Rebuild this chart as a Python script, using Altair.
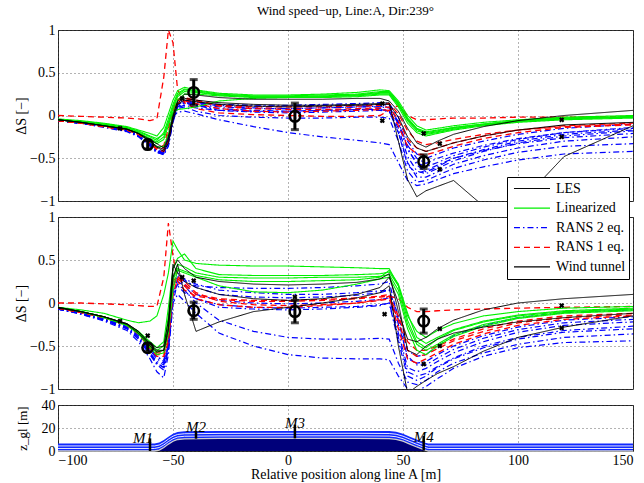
import altair as alt
import pandas as pd

FONT = "Liberation Serif, Times New Roman, serif"

# ---------------- data ----------------
X = [-100, -90, -80, -70, -65, -60, -57, -54, -52, -50, -48, -45, -40, -30, -15,
     0, 15, 30, 40, 44, 48, 52, 56, 60, 65, 72, 85, 100, 120, 150]

MODELS = ["LES", "Linearized", "RANS 2 eq.", "RANS 1 eq.", "Wind tunnel"]
COLORS = ["#000000", "#00f000", "#0000ff", "#ff0000", "#000000"]
DASHES = [[1, 0], [1, 0], [6, 3, 1.5, 3], [6, 4], [1, 0]]
WIDTHS = [1, 1.4, 1, 1, 3]

# ---- top panel ----
TOP_LES = [
    [-0.05,-0.08,-0.12,-0.16,-0.21,-0.28,-0.33,-0.38,-0.25,0.0,0.17,0.25,0.24,0.21,0.19,0.19,0.19,0.2,0.2,0.17,0.05,-0.15,-0.32,-0.37,-0.3,-0.22,-0.13,-0.06,0.0,0.06],
    [-0.05,-0.08,-0.12,-0.16,-0.21,-0.3,-0.36,-0.4,-0.28,-0.02,0.15,0.2,0.18,0.15,0.13,0.12,0.12,0.13,0.14,0.15,-0.3,-0.75,-0.95,-0.88,-0.83,-0.76,-1.06,-1.05,-0.48,-0.12],
    [-0.05,-0.08,-0.12,-0.16,-0.21,-0.31,-0.37,-0.42,-0.32,-0.06,0.13,0.18,0.16,0.13,0.11,0.1,0.11,0.12,0.13,0.13,-0.02,-0.25,-0.38,-0.42,-0.38,-0.32,-0.24,-0.17,-0.11,-0.08],
]
TOP_LIN = [
    [-0.04,-0.06,-0.09,-0.13,-0.17,-0.21,-0.24,-0.14,0.02,0.18,0.29,0.33,0.3,0.26,0.24,0.24,0.25,0.27,0.3,0.29,0.17,0.0,-0.12,-0.17,-0.15,-0.12,-0.08,-0.05,-0.02,0.0],
    [-0.05,-0.07,-0.1,-0.14,-0.19,-0.25,-0.29,-0.2,-0.04,0.13,0.26,0.31,0.29,0.25,0.23,0.23,0.24,0.25,0.28,0.28,0.15,-0.03,-0.15,-0.19,-0.17,-0.14,-0.1,-0.06,-0.03,-0.01],
    [-0.05,-0.08,-0.11,-0.15,-0.2,-0.28,-0.33,-0.28,-0.12,0.08,0.22,0.28,0.27,0.24,0.22,0.22,0.22,0.24,0.26,0.26,0.13,-0.06,-0.18,-0.21,-0.19,-0.15,-0.11,-0.07,-0.04,-0.02],
    [-0.05,-0.08,-0.12,-0.16,-0.21,-0.3,-0.37,-0.36,-0.22,0.02,0.18,0.25,0.25,0.23,0.21,0.21,0.21,0.22,0.24,0.24,0.1,-0.09,-0.2,-0.24,-0.21,-0.17,-0.12,-0.08,-0.05,-0.03],
    [-0.05,-0.07,-0.1,-0.14,-0.18,-0.24,-0.27,-0.22,-0.08,0.04,0.07,0.08,0.1,0.17,0.2,0.21,0.22,0.23,0.25,0.25,0.12,-0.05,-0.16,-0.2,-0.18,-0.14,-0.1,-0.06,-0.03,-0.02],
    [-0.05,-0.07,-0.11,-0.15,-0.2,-0.27,-0.31,-0.25,-0.08,0.1,0.24,0.3,0.28,0.24,0.22,0.22,0.23,0.24,0.27,0.27,0.14,-0.04,-0.16,-0.22,-0.2,-0.16,-0.11,-0.07,-0.04,-0.02],
]
TOP_R2 = [
    [-0.05,-0.08,-0.12,-0.17,-0.23,-0.33,-0.41,-0.44,-0.3,-0.02,0.12,0.17,0.15,0.13,0.12,0.12,0.13,0.14,0.15,0.14,-0.02,-0.3,-0.45,-0.5,-0.45,-0.38,-0.3,-0.22,-0.15,-0.1],
    [-0.06,-0.09,-0.13,-0.18,-0.24,-0.35,-0.43,-0.45,-0.28,0.02,0.15,0.18,0.16,0.11,0.09,0.08,0.09,0.1,0.1,0.09,-0.1,-0.4,-0.55,-0.6,-0.55,-0.47,-0.37,-0.28,-0.2,-0.15],
    [-0.06,-0.09,-0.13,-0.18,-0.24,-0.34,-0.43,-0.46,-0.36,-0.08,0.1,0.14,0.12,0.06,0.04,0.03,0.04,0.05,0.06,0.05,-0.15,-0.48,-0.65,-0.68,-0.62,-0.53,-0.42,-0.32,-0.24,-0.18],
    [-0.05,-0.08,-0.12,-0.17,-0.23,-0.33,-0.42,-0.46,-0.35,-0.06,0.1,0.15,0.12,0.08,0.06,0.05,0.06,0.07,0.08,0.06,-0.2,-0.55,-0.72,-0.72,-0.66,-0.57,-0.47,-0.38,-0.3,-0.25],
    [-0.06,-0.09,-0.14,-0.19,-0.25,-0.36,-0.44,-0.43,-0.25,0.04,0.14,0.16,0.13,0.1,0.08,0.08,0.09,0.1,0.11,0.1,-0.08,-0.35,-0.5,-0.56,-0.5,-0.44,-0.35,-0.27,-0.2,-0.14],
    [-0.06,-0.09,-0.13,-0.18,-0.24,-0.34,-0.41,-0.42,-0.28,-0.02,0.04,0.05,0.02,-0.05,-0.13,-0.2,-0.25,-0.29,-0.32,-0.34,-0.55,-0.76,-0.82,-0.8,-0.75,-0.68,-0.6,-0.52,-0.45,-0.42],
    [-0.06,-0.09,-0.13,-0.18,-0.24,-0.34,-0.42,-0.44,-0.32,-0.04,0.08,0.1,0.05,0.0,-0.02,-0.03,-0.03,-0.02,-0.02,-0.03,-0.3,-0.65,-0.78,-0.76,-0.7,-0.62,-0.52,-0.43,-0.36,-0.33],
    [-0.05,-0.08,-0.12,-0.17,-0.23,-0.33,-0.41,-0.45,-0.3,0.0,0.13,0.16,0.14,0.12,0.11,0.11,0.12,0.12,0.13,0.12,-0.08,-0.38,-0.58,-0.66,-0.6,-0.5,-0.4,-0.3,-0.22,-0.17],
    [-0.06,-0.09,-0.13,-0.18,-0.23,-0.33,-0.41,-0.43,-0.33,-0.05,0.09,0.12,0.09,0.06,0.05,0.05,0.06,0.07,0.07,0.05,-0.2,-0.58,-0.68,-0.64,-0.58,-0.5,-0.41,-0.33,-0.26,-0.21],
]
TOP_R1 = [
    [0.0,-0.01,-0.02,-0.03,-0.04,-0.06,-0.04,0.45,1.0,0.85,0.3,0.15,0.08,0.03,0.01,0.0,-0.01,-0.01,0.0,0.06,0.12,0.0,-0.05,-0.05,-0.04,-0.03,-0.03,-0.02,-0.02,-0.01],
    [-0.06,-0.09,-0.13,-0.17,-0.22,-0.32,-0.38,-0.38,-0.2,0.05,0.17,0.2,0.17,0.11,0.08,0.07,0.07,0.08,0.09,0.1,-0.05,-0.28,-0.38,-0.42,-0.38,-0.32,-0.24,-0.17,-0.12,-0.09],
    [-0.06,-0.09,-0.13,-0.17,-0.22,-0.33,-0.4,-0.42,-0.3,0.0,0.14,0.17,0.14,0.08,0.05,0.04,0.05,0.06,0.07,0.06,-0.12,-0.36,-0.45,-0.46,-0.42,-0.36,-0.27,-0.2,-0.14,-0.11],
    [-0.06,-0.09,-0.13,-0.17,-0.22,-0.32,-0.38,-0.35,-0.15,0.08,0.19,0.21,0.18,0.12,0.1,0.1,0.1,0.11,0.12,0.14,0.02,-0.18,-0.3,-0.34,-0.32,-0.28,-0.22,-0.17,-0.13,-0.1],
]
TOP_XM_X = [-73, -46, 41, 41, 59, 66, 66, 119, 119]
TOP_XM_Y = [-0.15, 0.2, 0.14, -0.06, -0.21, -0.33, -0.63, -0.05, -0.25]

WT_X = [-61, -41, 3, 59]
TOP_WT_Y = [-0.34, 0.27, -0.01, -0.54]
TOP_WT_E = [0.05, 0.15, 0.155, 0.08]

# ---- middle panel ----
MID_LES = [
    [-0.05,-0.1,-0.16,-0.24,-0.33,-0.47,-0.52,-0.5,-0.2,0.4,0.5,0.4,0.3,0.25,0.22,0.21,0.22,0.24,0.28,0.34,-0.1,-0.42,-0.45,-0.4,-0.3,-0.2,-0.08,0.0,0.05,0.1],
    [-0.06,-0.1,-0.16,-0.24,-0.33,-0.48,-0.55,-0.55,-0.3,0.3,0.45,0.1,-0.33,-0.22,-0.1,-0.05,0.0,0.06,0.12,0.2,-0.5,-1.05,-0.97,-0.9,-0.82,-0.74,-0.56,-0.4,-0.28,-0.15],
    [-0.05,-0.1,-0.16,-0.25,-0.35,-0.5,-0.57,-0.55,-0.3,0.45,0.35,0.25,0.18,0.1,0.05,0.03,0.05,0.1,0.18,0.3,0.0,-0.55,-0.6,-0.5,-0.42,-0.35,-0.28,-0.22,-0.17,-0.12],
]
MID_LIN = [
    [-0.05,-0.08,-0.12,-0.2,-0.23,-0.21,-0.15,0.1,0.35,0.72,0.62,0.5,0.46,0.44,0.43,0.43,0.42,0.41,0.4,0.4,0.2,-0.15,-0.33,-0.4,-0.32,-0.24,-0.15,-0.1,-0.06,-0.04],
    [-0.05,-0.1,-0.16,-0.25,-0.33,-0.45,-0.52,-0.45,-0.05,0.4,0.52,0.57,0.4,0.33,0.32,0.32,0.32,0.33,0.34,0.36,0.2,-0.2,-0.45,-0.52,-0.42,-0.32,-0.22,-0.15,-0.1,-0.07],
    [-0.05,-0.1,-0.17,-0.26,-0.35,-0.5,-0.57,-0.55,-0.25,0.25,0.45,0.42,0.35,0.3,0.29,0.29,0.3,0.3,0.31,0.33,0.15,-0.25,-0.48,-0.55,-0.48,-0.37,-0.25,-0.17,-0.11,-0.08],
    [-0.05,-0.1,-0.17,-0.26,-0.36,-0.52,-0.6,-0.58,-0.35,0.15,0.38,0.35,0.3,0.2,0.13,0.12,0.15,0.22,0.28,0.3,0.1,-0.3,-0.55,-0.6,-0.5,-0.39,-0.27,-0.18,-0.12,-0.09],
    [-0.05,-0.1,-0.16,-0.25,-0.34,-0.48,-0.55,-0.5,-0.15,0.3,0.4,0.37,0.32,0.27,0.25,0.25,0.26,0.27,0.3,0.38,0.22,-0.12,-0.4,-0.47,-0.4,-0.31,-0.21,-0.14,-0.09,-0.06],
]
MID_R2 = [
    [-0.06,-0.11,-0.18,-0.28,-0.38,-0.55,-0.65,-0.7,-0.5,0.2,0.3,0.25,0.2,0.18,0.17,0.17,0.18,0.2,0.22,0.25,-0.2,-0.65,-0.7,-0.68,-0.6,-0.5,-0.38,-0.28,-0.2,-0.16],
    [-0.07,-0.12,-0.2,-0.3,-0.42,-0.6,-0.72,-0.78,-0.55,0.1,0.28,0.22,0.1,0.03,0.0,-0.01,0.0,0.02,0.04,0.06,-0.35,-0.75,-0.8,-0.76,-0.68,-0.58,-0.45,-0.34,-0.26,-0.22],
    [-0.07,-0.13,-0.21,-0.32,-0.45,-0.65,-0.8,-0.87,-0.6,0.0,0.25,0.2,0.05,-0.05,-0.07,-0.08,-0.07,-0.05,-0.03,0.0,-0.45,-0.85,-0.9,-0.85,-0.75,-0.65,-0.52,-0.42,-0.34,-0.3],
    [-0.07,-0.12,-0.19,-0.29,-0.4,-0.58,-0.68,-0.72,-0.5,0.1,0.22,0.15,0.0,-0.2,-0.33,-0.4,-0.42,-0.42,-0.41,-0.42,-0.7,-0.92,-0.95,-0.9,-0.8,-0.7,-0.58,-0.48,-0.4,-0.36],
    [-0.07,-0.13,-0.2,-0.3,-0.42,-0.6,-0.7,-0.75,-0.55,0.0,0.1,0.02,-0.12,-0.35,-0.5,-0.6,-0.64,-0.65,-0.65,-0.66,-0.85,-1.0,-1.02,-0.97,-0.88,-0.76,-0.62,-0.52,-0.46,-0.44],
    [-0.06,-0.11,-0.18,-0.27,-0.37,-0.53,-0.63,-0.66,-0.45,0.3,0.35,0.28,0.22,0.15,0.12,0.1,0.1,0.12,0.14,0.15,-0.15,-0.55,-0.62,-0.6,-0.5,-0.38,-0.26,-0.17,-0.11,-0.08],
    [-0.07,-0.12,-0.19,-0.29,-0.4,-0.58,-0.7,-0.75,-0.5,0.15,0.2,0.12,0.05,-0.02,-0.05,-0.06,-0.05,-0.04,-0.02,0.0,-0.4,-0.8,-0.85,-0.82,-0.74,-0.64,-0.5,-0.4,-0.32,-0.27],
    [-0.06,-0.1,-0.17,-0.26,-0.36,-0.52,-0.62,-0.68,-0.48,0.2,0.32,0.27,0.18,0.1,0.07,0.06,0.07,0.09,0.12,0.15,-0.25,-0.62,-0.72,-0.72,-0.64,-0.54,-0.41,-0.31,-0.23,-0.19],
]
MID_R1 = [
    [0.0,0.0,-0.01,-0.02,-0.03,-0.04,-0.04,0.3,0.93,0.55,0.25,0.15,0.08,0.04,0.02,0.02,0.03,0.05,0.07,0.08,0.05,-0.05,-0.1,-0.1,-0.09,-0.08,-0.07,-0.06,-0.05,-0.04],
    [-0.06,-0.11,-0.17,-0.26,-0.36,-0.52,-0.6,-0.6,-0.4,0.2,0.3,0.25,0.12,0.02,-0.02,-0.03,-0.02,0.0,0.03,0.05,-0.2,-0.55,-0.62,-0.6,-0.53,-0.44,-0.33,-0.23,-0.17,-0.14],
    [-0.06,-0.11,-0.17,-0.26,-0.36,-0.53,-0.62,-0.62,-0.45,0.1,0.28,0.22,0.1,0.05,0.03,0.03,0.04,0.06,0.08,0.1,-0.3,-0.65,-0.7,-0.65,-0.58,-0.48,-0.36,-0.26,-0.19,-0.15],
    [-0.06,-0.11,-0.17,-0.26,-0.35,-0.5,-0.58,-0.58,-0.35,0.25,0.32,0.2,0.05,-0.02,-0.05,-0.05,-0.03,0.0,0.04,0.08,-0.15,-0.45,-0.55,-0.55,-0.5,-0.42,-0.3,-0.21,-0.15,-0.12],
]
MID_XM_X = [-73, -61, -46, -41, 3, 42, 59, 66, 66, 119, 119]
MID_XM_Y = [-0.21, -0.38, 0.3, 0.26, 0.07, -0.13, -0.71, -0.3, -0.5, -0.03, -0.29]
MID_WT_Y = [-0.52, -0.09, -0.1, -0.21]
MID_WT_E = [0.045, 0.1, 0.13, 0.14]

# ---- terrain panel ----
TX = [-100, -58, -56, -54, -52, -50, -48, -45, -30, 0, 30, 44, 47, 50, 53, 56, 59, 61, 150]
TZ = [0, 0, 0.8, 3, 6, 8.5, 10, 10.6, 10.9, 11, 11, 10.8, 10.2, 8.5, 6, 3.5, 1.2, 0, 0]
M_NAMES = ["M1", "M2", "M3", "M4"]
M_X = [-60, -40, 3, 59]
M_LO = [0, 10.7, 11, 0.5]
M_HI = [11, 17.5, 23, 13]
M_TX = [-63, -40, 3, 59]
M_TY = [11.5, 21, 24.5, 12.5]

# ---------------- chart ----------------
XTICKS = [-100, -50, 0, 50, 100, 150]
xscale = alt.Scale(domain=[-100, 150], nice=False, zero=False)
yscale = alt.Scale(domain=[-1, 1], nice=False)

legend = alt.Legend(
    orient="none", legendX=449, legendY=147, title=None,
    symbolType="stroke", symbolSize=1300, clipHeight=17, labelFont=FONT, labelFontSize=14,
    labelColor="black", fillColor="white", strokeColor="black",
    padding=3, rowPadding=2.6, symbolOffset=3, labelOffset=5,
)
color = alt.Color("model:N", scale=alt.Scale(domain=MODELS, range=COLORS), legend=legend)
dash = alt.StrokeDash("model:N", scale=alt.Scale(domain=MODELS, range=DASHES), legend=legend)
width = alt.StrokeWidth("model:N", scale=alt.Scale(domain=MODELS, range=WIDTHS), legend=legend)

x_hidden = alt.Axis(values=XTICKS, labels=False, title=None)
y_axis = alt.Axis(values=[-1, -0.5, 0, 0.5, 1], format="~g", title="ΔS [−]", titleX=-37,
                  titleBaseline="middle", labelFontSize=14, titleFontSize=14,
                  labelPadding=3)


def line_frame(series, model, tag):
    xs, ys, ids = [], [], []
    for i, s in enumerate(series):
        xs += X
        ys += s
        ids += [f"{tag}{i}"] * len(X)
    return pd.DataFrame({"x": xs, "y": ys, "id": ids, "model": model})


def panel(les, lin, r2, r1, xm_x, xm_y, wt_y, wt_e, tag, height):
    X_ = lambda: alt.X("x:Q", scale=xscale, axis=x_hidden)
    Y_ = lambda f: alt.Y(f, scale=yscale, axis=y_axis)
    layers = []
    for series, model in [(r2, "RANS 2 eq."), (r1, "RANS 1 eq."), (lin, "Linearized"), (les, "LES")]:
        layers.append(
            alt.Chart(line_frame(series, model, tag + model)).mark_line(clip=True).encode(
                x=X_(), y=Y_("y:Q"), detail="id:N", color=color, strokeDash=dash, strokeWidth=width
            )
        )
    xm = pd.DataFrame({"x": xm_x, "y": xm_y})
    layers.append(alt.Chart(xm).mark_point(shape="cross", angle=45, filled=True, size=28,
                                            color="black", opacity=1).encode(x=X_(), y=Y_("y:Q")))
    wt = pd.DataFrame({"x": WT_X, "y": wt_y, "e": wt_e})
    wb = alt.Chart(wt).transform_calculate(lo="datum.y - datum.e", hi="datum.y + datum.e")
    layers.append(wb.mark_rule(strokeWidth=3, color="black").encode(x=X_(), y=Y_("lo:Q"), y2="hi:Q"))
    layers.append(wb.mark_tick(orient="horizontal", size=8, thickness=3, color="black").encode(x=X_(), y=Y_("lo:Q")))
    layers.append(wb.mark_tick(orient="horizontal", size=8, thickness=3, color="black").encode(x=X_(), y=Y_("hi:Q")))
    layers.append(wb.mark_point(shape="circle", size=110, strokeWidth=2.5, color="black",
                                filled=False, opacity=1).encode(x=X_(), y=Y_("y:Q")))
    return alt.layer(*layers).properties(width=575, height=height)


top = panel(TOP_LES, TOP_LIN, TOP_R2, TOP_R1, TOP_XM_X, TOP_XM_Y, TOP_WT_Y, TOP_WT_E, "t", 171).properties(
    title=alt.TitleParams("Wind speed−up, Line:A, Dir:239°", font=FONT, fontSize=13,
                          fontWeight="normal", offset=5, anchor="middle", color="black")
)
mid = panel(MID_LES, MID_LIN, MID_R2, MID_R1, MID_XM_X, MID_XM_Y, MID_WT_Y, MID_WT_E, "m", 172)

# terrain
terr = pd.DataFrame({"x": TX, "z": TZ})
bx_axis = alt.Axis(values=XTICKS, title="Relative position along line A [m]", labelFontSize=14,
                   titleFontSize=14, labelPadding=2, titlePadding=0)
by_axis = alt.Axis(values=[0, 20, 40], title="z_gl [m]", titleX=-36, titleBaseline="middle",
                   labelFontSize=14, titleFontSize=13, labelPadding=3)
BX = lambda: alt.X("x:Q", scale=xscale, axis=bx_axis)
zscale = alt.Scale(domain=[0, 40], nice=False)
BY = lambda f: alt.Y(f, scale=zscale, axis=by_axis)
tb = alt.Chart(terr).transform_calculate(
    top="datum.z + 6.5", w1="datum.z + 2.2", w2="datum.z + 4.4", base="0"
)
band = tb.mark_area(color="#1028ff", opacity=1).encode(x=BX(), y=BY("top:Q"), y2="z:Q")
fill = tb.mark_area(color="#00007a", opacity=1).encode(x=BX(), y=BY("z:Q"), y2="base:Q")
wl1 = tb.mark_line(color="white", strokeWidth=0.9).encode(x=BX(), y=BY("w1:Q"))
wl2 = tb.mark_line(color="white", strokeWidth=0.9).encode(x=BX(), y=BY("w2:Q"))
gl = tb.mark_line(color="#cfcfcf", strokeWidth=1.3).encode(x=BX(), y=BY("z:Q"))
mdf = pd.DataFrame({"x": M_X, "lo": M_LO, "hi": M_HI, "tx": M_TX, "ty": M_TY, "name": M_NAMES})
mrule = alt.Chart(mdf).mark_rule(color="black", strokeWidth=2.5).encode(x=BX(), y=BY("lo:Q"), y2="hi:Q")
mtext = alt.Chart(mdf).mark_text(font=FONT, fontSize=15, fontStyle="italic", color="black",
                                 baseline="middle").encode(
    x=alt.X("tx:Q", scale=xscale, axis=bx_axis), y=BY("ty:Q"), text="name:N")
bot = alt.layer(band, fill, wl1, wl2, gl, mrule, mtext).properties(width=575, height=46)

chart = alt.vconcat(top, mid, bot, spacing=16, bounds="flush").properties(
    padding={"left": 13, "top": 4, "right": 0, "bottom": 0}
).configure_view(stroke="#333333", strokeWidth=1).configure_axis(
    labelFont=FONT, titleFont=FONT, labelColor="black", titleColor="black",
    titleFontWeight="normal", domain=False, ticks=False,
    gridColor="black", gridDash=[1, 3], gridOpacity=0.75, gridWidth=0.8,
)

chart.save("out.html", embed_options={"renderer": "svg", "actions": False})
